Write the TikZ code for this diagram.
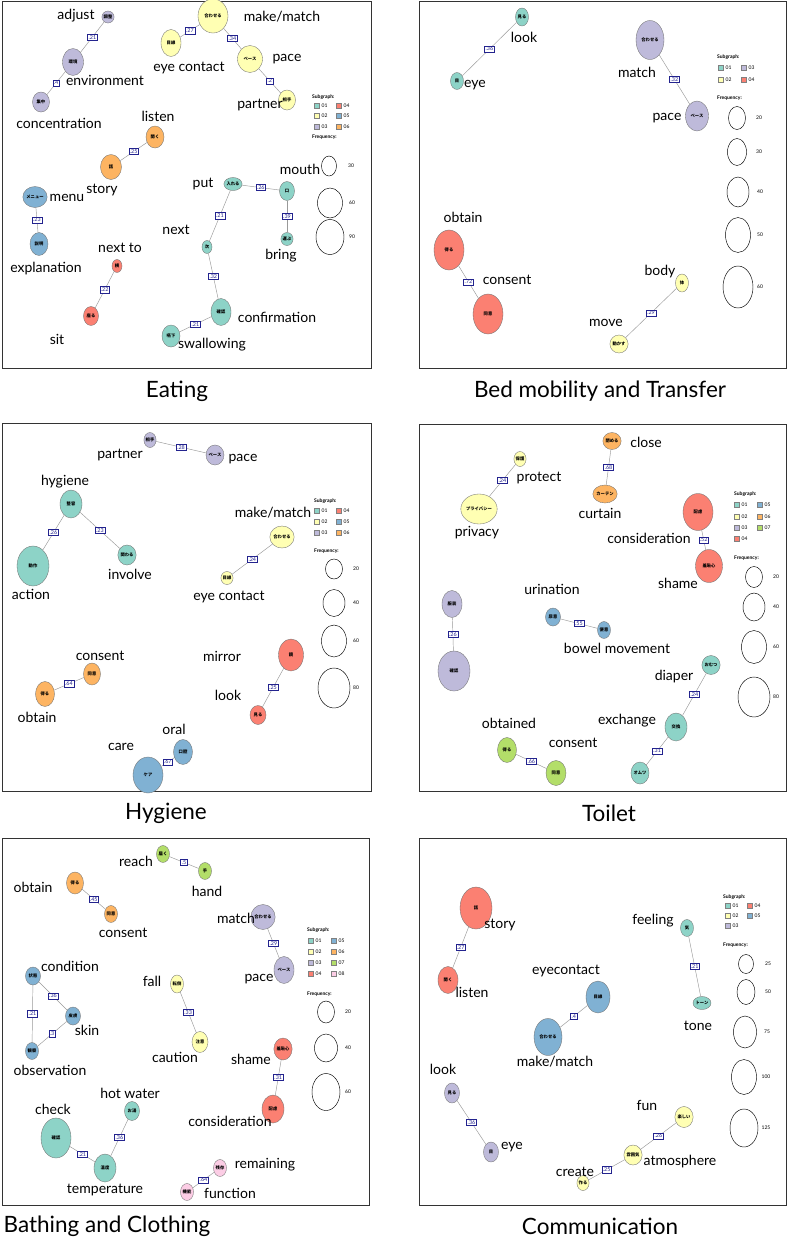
\documentclass[tikz,border=0pt]{standalone}
\usepackage{fontspec}
\setmainfont{Lato}
\newfontfamily\jpfont{Noto Sans CJK JP}
\usetikzlibrary{shapes.geometric}
\usetikzlibrary{positioning}

\definecolor{g01}{HTML}{8DD3C7}
\definecolor{g02}{HTML}{FFFFB3}
\definecolor{g03}{HTML}{BEBADA}
\definecolor{g04}{HTML}{FB8072}
\definecolor{g05}{HTML}{80B1D3}
\definecolor{g06}{HTML}{FDB462}
\definecolor{g07}{HTML}{B3DE69}
\definecolor{g08}{HTML}{FCCDE5}
\definecolor{navy}{HTML}{23238E}

\tikzset{
  word/.style={ellipse, draw=black!55, line width=0.35pt, inner sep=0pt, font=\jpfont\bfseries\fontsize{4.3}{4.3}\selectfont},
  lab/.style={inner sep=0pt, font=\fontsize{14}{14}\selectfont},
  link/.style={draw=black!40, line width=0.45pt},
  wt/.style={draw=navy, fill=white, text=navy, line width=0.5pt, inner sep=1.1pt, font=\fontsize{5.4}{5.4}\selectfont},
  panel/.style={draw=black!80, line width=0.9pt},
  heading/.style={inner sep=0pt, font=\fontsize{22.5}{22.5}\selectfont},
  swatch/.style={draw=black!50, line width=0.3pt, minimum size=5pt, inner sep=0pt},
  legtxt/.style={inner sep=0pt, font=\fontsize{5}{5}\selectfont},
  leghead/.style={inner sep=0pt, font=\bfseries\fontsize{5}{5}\selectfont},
  freqc/.style={ellipse, draw=black, line width=0.45pt, inner sep=0pt},
}

% word circle: name, position, width, height, colour, word
\newcommand{\word}[6]{\node[word,fill=#5,minimum width=#3pt,minimum height=#4pt] (#1) at (#2) {#6};}
% english gloss
\newcommand{\wlabel}[3]{\node[lab] (#1) at (#2) {#3};}
% co-occurrence edge with its coefficient
\newcommand{\wlink}[3]{\draw[link] (#1) -- node[wt] {#3} (#2);}
% legend entries
\newcommand{\swatch}[4]{\node[swatch,fill=#3] (#1) at (#2) {}; \node[legtxt,anchor=west] (#1t) at ([xshift=1.8pt]#1.east) {#4};}
\newcommand{\freq}[5]{\node[freqc,minimum width=#3pt,minimum height=#4pt] (#1) at (#2) {}; \node[legtxt] (#1t) at ([xshift=22pt]#1.center) {#5};}

\begin{document}
\begin{tikzpicture}[x=1pt,y=-1pt]
  \fill[white] (0,0) rectangle (788,1240);
  \useasboundingbox (0,0) rectangle (788,1240);

  % frames and titles
  \draw[panel] (2,1) rectangle (371,368);
  \draw[panel] (419,1) rectangle (786,368);
  \draw[panel] (2,423) rectangle (371,791);
  \draw[panel] (419,424) rectangle (786,791);
  \draw[panel] (2,838) rectangle (369,1205);
  \draw[panel] (419,838) rectangle (786,1205);
  \node[heading] (tEat) at (177,391) {Eating};
  \node[heading] (tBed) at (600,391) {Bed mobility and Transfer};
  \node[heading] (tHyg) at (166,813) {Hygiene};
  \node[heading] (tToi) at (609,813) {Toilet};
  \node[heading] (tBat) at (107,1226) {Bathing and Clothing};
  \node[heading] (tCom) at (600,1226) {Communication};

  %%%% Eating
  \word{eaAdj}{108,17}{10}{12}{g03}{調整}
  \word{eaEnv}{73,62}{21}{27}{g03}{環境}
  \word{eaCon}{41,102}{17}{20}{g03}{集中}
  \word{eaEye}{171,43}{20}{27}{g02}{目線}
  \word{eaMake}{213,16}{30}{34}{g02}{合わせる}
  \word{eaPace}{250,59}{25}{27}{g02}{ペース}
  \word{eaPart}{287,100}{17}{20}{g02}{相手}
  \word{eaListen}{155,137}{18}{22}{g06}{聞く}
  \word{eaStory}{111,167}{21}{25}{g06}{話}
  \word{eaMenu}{35,197}{17}{21}{g05}{メニュー}
  \word{eaExpl}{39,244}{18}{23}{g05}{説明}
  \word{eaSide}{117,266}{10}{13}{g04}{横}
  \word{eaSit}{91,316}{15}{19}{g04}{座る}
  \word{eaPut}{233,184}{12}{13}{g01}{入れる}
  \word{eaMouth}{287,191}{15}{19}{g01}{口}
  \word{eaBring}{287,239}{10}{13}{g01}{運ぶ}
  \word{eaNext}{207,247}{10}{13}{g01}{次}
  \word{eaConf}{221,312}{20}{27}{g01}{確認}
  \word{eaSwal}{171,336}{18}{22}{g01}{嚥下}

  \wlink{eaAdj}{eaEnv}{.21}
  \wlink{eaEnv}{eaCon}{.4}
  \wlink{eaEye}{eaMake}{.27}
  \wlink{eaMake}{eaPace}{.34}
  \wlink{eaPace}{eaPart}{.2}
  \wlink{eaListen}{eaStory}{.25}
  \wlink{eaMenu}{eaExpl}{.23}
  \wlink{eaSide}{eaSit}{.22}
  \wlink{eaPut}{eaMouth}{.26}
  \wlink{eaMouth}{eaBring}{.39}
  \wlink{eaPut}{eaNext}{.21}
  \wlink{eaNext}{eaConf}{.32}
  \wlink{eaConf}{eaSwal}{.21}

  \wlabel{eaAdjL}{76,16}{adjust}
  \wlabel{eaEnvL}{105,80}{environment}
  \wlabel{eaConL}{59,123}{concentration}
  \wlabel{eaEyeL}{189,68}{eye contact}
  \wlabel{eaMakeL}{282,17}{make/match}
  \wlabel{eaPaceL}{287,59}{pace}
  \wlabel{eaPartL}{260,105}{partner}
  \wlabel{eaListenL}{158,116}{listen}
  \wlabel{eaStoryL}{102,190}{story}
  \wlabel{eaMenuL}{67,198}{menu}
  \wlabel{eaExplL}{46,269}{explanation}
  \wlabel{eaSideL}{120,248}{next to}
  \wlabel{eaSitL}{57,339}{sit}
  \wlabel{eaPutL}{203,184}{put}
  \wlabel{eaMouthL}{300,169}{mouth}
  \wlabel{eaBringL}{281,256}{bring}
  \wlabel{eaNextL}{176,230}{next}
  \wlabel{eaConfL}{277,317}{confirmation}
  \wlabel{eaSwalL}{212,345}{swallowing}

  % legend
  \node[leghead,anchor=west] (eaSub) at (312,97) {Subgraph:};
  \swatch{eaS1}{317,106}{g01}{01}
  \swatch{eaS4}{339,106}{g04}{04}
  \swatch{eaS2}{317,116}{g02}{02}
  \swatch{eaS5}{339,116}{g05}{05}
  \swatch{eaS3}{317,127}{g03}{03}
  \swatch{eaS6}{339,127}{g06}{06}
  \node[leghead,anchor=west] (eaFrq) at (312,137) {Frequency:};
  \freq{eaF1}{329,166}{15}{20}{30}
  \freq{eaF2}{330,203}{25}{30}{60}
  \freq{eaF3}{330,237}{28}{35}{90}

  %%%% Bed mobility and Transfer
  \word{bmLook}{522,17}{13}{18}{g01}{見る}
  \word{bmEye}{457,81}{13}{17}{g01}{目}
  \word{bmMatch}{650,40}{28}{39}{g03}{合わせる}
  \word{bmPace}{697,116}{23}{30}{g03}{ペース}
  \word{bmObt}{449,250}{30}{40}{g04}{得る}
  \word{bmCons}{488,314}{30}{40}{g04}{同意}
  \word{bmBody}{682,283}{13}{18}{g02}{体}
  \word{bmMove}{619,344}{13}{18}{g02}{動かす}

  \wlink{bmLook}{bmEye}{.36}
  \wlink{bmMatch}{bmPace}{.32}
  \wlink{bmObt}{bmCons}{.72}
  \wlink{bmBody}{bmMove}{.29}

  \wlabel{bmLookL}{524,37}{look}
  \wlabel{bmEyeL}{475,85}{eye}
  \wlabel{bmMatchL}{637,72}{match}
  \wlabel{bmPaceL}{667,118}{pace}
  \wlabel{bmObtL}{463,217}{obtain}
  \wlabel{bmConsL}{507,280}{consent}
  \wlabel{bmBodyL}{660,272}{body}
  \wlabel{bmMoveL}{606,323}{move}

  \node[leghead,anchor=west] (bmSub) at (717,57) {Subgraph:};
  \swatch{bmS1}{721,68}{g01}{01}
  \swatch{bmS3}{744,68}{g03}{03}
  \swatch{bmS2}{721,80}{g02}{02}
  \swatch{bmS4}{744,80}{g04}{04}
  \node[leghead,anchor=west] (bmFrq) at (717,98) {Frequency:};
  \freq{bmF1}{737,118}{17}{23}{20}
  \freq{bmF2}{737,152}{19}{27}{30}
  \freq{bmF3}{738,192}{22}{30}{40}
  \freq{bmF4}{738,235}{25}{35}{50}
  \freq{bmF5}{738,287}{30}{42}{60}

  %%%% Hygiene
  \word{hyPart}{150,440}{12}{15}{g03}{相手}
  \word{hyPace}{215,455}{17}{20}{g03}{ペース}
  \word{hyHyg}{71,504}{22}{28}{g01}{整容}
  \word{hyAct}{33,566}{32}{40}{g01}{動作}
  \word{hyInv}{127,555}{16}{20}{g01}{関わる}
  \word{hyMake}{282,537}{17}{22}{g02}{合わせる}
  \word{hyEye}{227,578}{10}{13}{g02}{目線}
  \word{hyCons}{92,674}{17}{22}{g06}{同意}
  \word{hyObt}{45,694}{19}{25}{g06}{得る}
  \word{hyMirror}{291,655}{25}{32}{g04}{鏡}
  \word{hyLook}{258,715}{16}{19}{g04}{見る}
  \word{hyOral}{183,752}{19}{25}{g05}{口腔}
  \word{hyCare}{148,775}{30}{36}{g05}{ケア}

  \wlink{hyPart}{hyPace}{.28}
  \wlink{hyHyg}{hyAct}{.26}
  \wlink{hyHyg}{hyInv}{.23}
  \wlink{hyMake}{hyEye}{.24}
  \wlink{hyCons}{hyObt}{.64}
  \wlink{hyMirror}{hyLook}{.25}
  \wlink{hyOral}{hyCare}{.67}

  \wlabel{hyPartL}{120,455}{partner}
  \wlabel{hyPaceL}{243,459}{pace}
  \wlabel{hyHygL}{65,482}{hygiene}
  \wlabel{hyActL}{31,594}{action}
  \wlabel{hyInvL}{130,574}{involve}
  \wlabel{hyMakeL}{273,513}{make/match}
  \wlabel{hyEyeL}{229,597}{eye contact}
  \wlabel{hyConsL}{100,656}{consent}
  \wlabel{hyObtL}{37,717}{obtain}
  \wlabel{hyMirrorL}{222,656}{mirror}
  \wlabel{hyLookL}{228,695}{look}
  \wlabel{hyOralL}{174,729}{oral}
  \wlabel{hyCareL}{121,747}{care}

  \node[leghead,anchor=west] (hySub) at (314,501) {Subgraph:};
  \swatch{hyS1}{317,511}{g01}{01}
  \swatch{hyS4}{339,511}{g04}{04}
  \swatch{hyS2}{317,522}{g02}{02}
  \swatch{hyS5}{339,522}{g05}{05}
  \swatch{hyS3}{317,533}{g03}{03}
  \swatch{hyS6}{339,533}{g06}{06}
  \node[leghead,anchor=west] (hyFrq) at (314,551) {Frequency:};
  \freq{hyF1}{334,569}{17}{20}{20}
  \freq{hyF2}{334,603}{22}{27}{40}
  \freq{hyF3}{334,641}{25}{32}{60}
  \freq{hyF4}{334,688}{32}{40}{80}

  %%%% Toilet
  \word{toProt}{520,459}{12}{15}{g02}{保護}
  \word{toPriv}{479,509}{23}{30}{g02}{プライバシー}
  \word{toClose}{612,441}{13}{17}{g06}{閉める}
  \word{toCurt}{605,494}{13}{18}{g06}{カーテン}
  \word{toConsid}{698,512}{30}{37}{g04}{配慮}
  \word{toShame}{709,566}{27}{33}{g04}{羞恥心}
  \word{toCloth}{452,604}{20}{27}{g03}{服装}
  \word{toCheck}{454,671}{32}{40}{g03}{確認}
  \word{toUrin}{553,617}{15}{18}{g05}{尿意}
  \word{toBowel}{604,630}{13}{17}{g05}{便意}
  \word{toDiap}{711,665}{15}{19}{g01}{おむつ}
  \word{toExch}{676,727}{22}{28}{g01}{交換}
  \word{toOmu}{640,773}{18}{22}{g01}{オムツ}
  \word{toObt}{507,750}{19}{25}{g07}{得る}
  \word{toCons}{556,773}{20}{25}{g07}{同意}

  \wlink{toProt}{toPriv}{.24}
  \wlink{toClose}{toCurt}{.68}
  \wlink{toConsid}{toShame}{.52}
  \wlink{toCloth}{toCheck}{.26}
  \wlink{toUrin}{toBowel}{.55}
  \wlink{toDiap}{toExch}{.24}
  \wlink{toExch}{toOmu}{.31}
  \wlink{toObt}{toCons}{.66}

  \wlabel{toProtL}{539,478}{protect}
  \wlabel{toPrivL}{477,533}{privacy}
  \wlabel{toCloseL}{646,442}{close}
  \wlabel{toCurtL}{600,513}{curtain}
  \wlabel{toConsidL}{649,538}{consideration}
  \wlabel{toShameL}{678,583}{shame}
  \wlabel{toUrinL}{552,589}{urination}
  \wlabel{toBowelL}{617,648}{bowel movement}
  \wlabel{toDiapL}{674,677}{diaper}
  \wlabel{toExchL}{627,721}{exchange}
  \wlabel{toObtL}{509,723}{obtained}
  \wlabel{toConsL}{573,743}{consent}

  \node[leghead,anchor=west] (toSub) at (734,494) {Subgraph:};
  \swatch{toS1}{737,505}{g01}{01}
  \swatch{toS5}{760,505}{g05}{05}
  \swatch{toS2}{737,517}{g02}{02}
  \swatch{toS6}{760,517}{g06}{06}
  \swatch{toS3}{737,528}{g03}{03}
  \swatch{toS7}{760,528}{g07}{07}
  \swatch{toS4}{737,539}{g04}{04}
  \node[leghead,anchor=west] (toFrq) at (734,558) {Frequency:};
  \freq{toF1}{754,577}{17}{21}{20}
  \freq{toF2}{754,607}{22}{28}{40}
  \freq{toF3}{754,647}{25}{33}{60}
  \freq{toF4}{754,697}{32}{40}{80}

  %%%% Bathing and Clothing
  \word{baReach}{163,854}{13}{17}{g07}{届く}
  \word{baHand}{205,871}{13}{17}{g07}{手}
  \word{baObt}{75,883}{17}{22}{g06}{得る}
  \word{baCons}{111,914}{13}{17}{g06}{同意}
  \word{baMatch}{263,917}{18}{25}{g03}{合わせる}
  \word{baPace}{284,970}{20}{27}{g03}{ペース}
  \word{baCond}{33,976}{15}{18}{g05}{状態}
  \word{baSkin}{73,1016}{15}{18}{g05}{皮膚}
  \word{baObs}{32,1051}{13}{17}{g05}{観察}
  \word{baFall}{177,984}{13}{18}{g02}{転倒}
  \word{baCaut}{200,1042}{16}{21}{g02}{注意}
  \word{baShame}{283,1049}{16}{22}{g04}{羞恥心}
  \word{baConsid}{273,1109}{22}{28}{g04}{配慮}
  \word{baHot}{132,1111}{15}{19}{g01}{お湯}
  \word{baCheck}{56,1138}{30}{40}{g01}{確認}
  \word{baTemp}{105,1168}{22}{28}{g01}{温度}
  \word{baRem}{220,1168}{13}{17}{g08}{残存}
  \word{baFunc}{187,1192}{13}{17}{g08}{機能}

  \wlink{baReach}{baHand}{.5}
  \wlink{baObt}{baCons}{.45}
  \wlink{baMatch}{baPace}{.29}
  \wlink{baCond}{baSkin}{.36}
  \wlink{baCond}{baObs}{.21}
  \wlink{baSkin}{baObs}{.3}
  \wlink{baFall}{baCaut}{.33}
  \wlink{baShame}{baConsid}{.31}
  \wlink{baHot}{baTemp}{.36}
  \wlink{baCheck}{baTemp}{.21}
  \wlink{baRem}{baFunc}{.64}

  \wlabel{baReachL}{136,861}{reach}
  \wlabel{baHandL}{207,891}{hand}
  \wlabel{baObtL}{33,887}{obtain}
  \wlabel{baConsL}{123,933}{consent}
  \wlabel{baMatchL}{236,918}{match}
  \wlabel{baPaceL}{259,979}{pace}
  \wlabel{baCondL}{70,966}{condition}
  \wlabel{baSkinL}{87,1030}{skin}
  \wlabel{baObsL}{50,1070}{observation}
  \wlabel{baFallL}{152,981}{fall}
  \wlabel{baCautL}{175,1057}{caution}
  \wlabel{baShameL}{251,1059}{shame}
  \wlabel{baConsidL}{230,1121}{consideration}
  \wlabel{baHotL}{130,1093}{hot water}
  \wlabel{baCheckL}{53,1109}{check}
  \wlabel{baTempL}{105,1190}{temperature}
  \wlabel{baRemL}{265,1165}{remaining}
  \wlabel{baFuncL}{230,1193}{function}

  \node[leghead,anchor=west] (baSub) at (307,930) {Subgraph:};
  \swatch{baS1}{311,941}{g01}{01}
  \swatch{baS5}{334,941}{g05}{05}
  \swatch{baS2}{311,952}{g02}{02}
  \swatch{baS6}{334,952}{g06}{06}
  \swatch{baS3}{311,963}{g03}{03}
  \swatch{baS7}{334,963}{g07}{07}
  \swatch{baS4}{311,974}{g04}{04}
  \swatch{baS8}{334,974}{g08}{08}
  \node[leghead,anchor=west] (baFrq) at (307,994) {Frequency:};
  \freq{baF1}{326,1012}{17}{22}{20}
  \freq{baF2}{326,1048}{23}{28}{40}
  \freq{baF3}{326,1092}{28}{37}{60}

  %%%% Communication
  \word{coStory}{476,908}{32}{42}{g04}{話}
  \word{coListen}{448,980}{20}{27}{g04}{聞く}
  \word{coEye}{598,997}{24}{32}{g05}{目線}
  \word{coMake}{548,1037}{28}{37}{g05}{合わせる}
  \word{coLook}{452,1093}{15}{20}{g03}{見る}
  \word{coEyeb}{491,1152}{15}{20}{g03}{目}
  \word{coFeel}{687,928}{13}{17}{g01}{気}
  \word{coTone}{702,1003}{10}{13}{g01}{トーン}
  \word{coFun}{684,1117}{17}{21}{g02}{楽しい}
  \word{coAtm}{633,1155}{16}{20}{g02}{雰囲気}
  \word{coMake2}{583,1183}{12}{15}{g02}{作る}

  \wlink{coStory}{coListen}{.27}
  \wlink{coEye}{coMake}{.4}
  \wlink{coLook}{coEyeb}{.36}
  \wlink{coFeel}{coTone}{.21}
  \wlink{coFun}{coAtm}{.26}
  \wlink{coAtm}{coMake2}{.25}

  \wlabel{coStoryL}{500,925}{story}
  \wlabel{coListenL}{472,992}{listen}
  \wlabel{coEyeL}{566,971}{eyecontact}
  \wlabel{coMakeL}{555,1062}{make/match}
  \wlabel{coLookL}{443,1069}{look}
  \wlabel{coEyebL}{512,1147}{eye}
  \wlabel{coFeelL}{653,921}{feeling}
  \wlabel{coToneL}{698,1026}{tone}
  \wlabel{coFunL}{647,1105}{fun}
  \wlabel{coAtmL}{680,1162}{atmosphere}
  \wlabel{coMake2L}{575,1172}{create}

  \node[leghead,anchor=west] (coSub) at (723,897) {Subgraph:};
  \swatch{coS1}{728,906}{g01}{01}
  \swatch{coS4}{750,906}{g04}{04}
  \swatch{coS2}{728,916}{g02}{02}
  \swatch{coS5}{750,916}{g05}{05}
  \swatch{coS3}{728,926}{g03}{03}
  \node[leghead,anchor=west] (coFrq) at (723,945) {Frequency:};
  \freq{coF1}{746,964}{15}{19}{25}
  \freq{coF2}{746,992}{18}{25}{50}
  \freq{coF3}{745,1032}{23}{32}{75}
  \freq{coF4}{744,1077}{25}{35}{100}
  \freq{coF5}{744,1128}{28}{38}{125}
\end{tikzpicture}
\end{document}
